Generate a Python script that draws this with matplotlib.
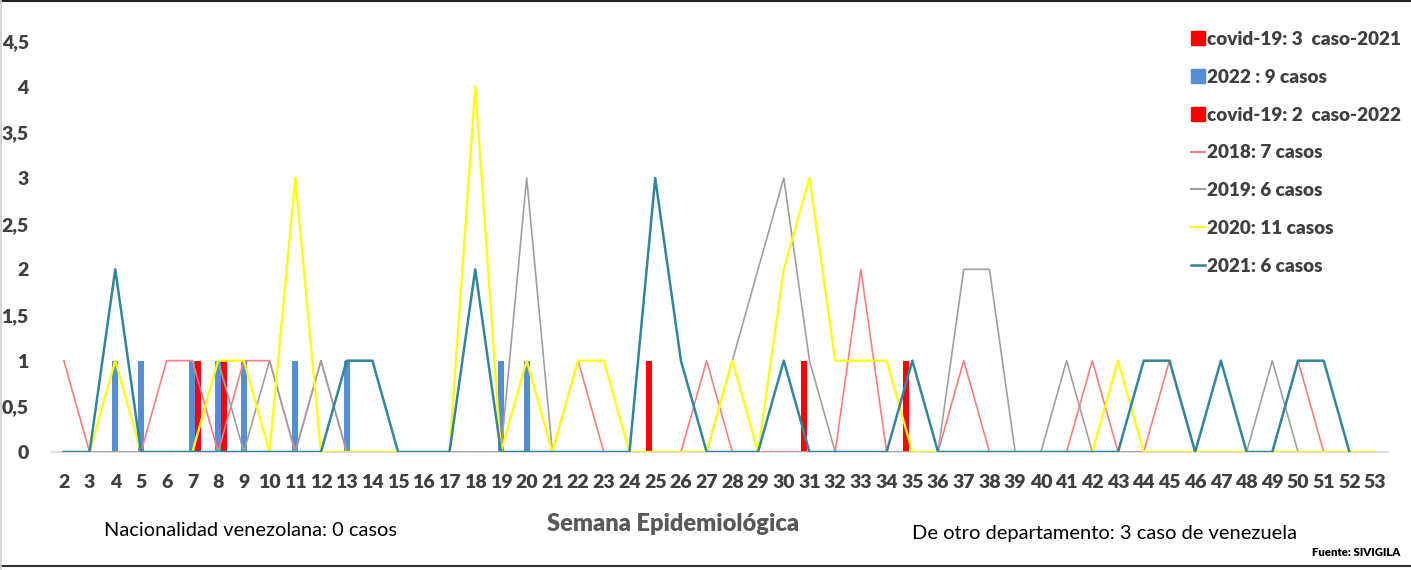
import numpy as np
import matplotlib
matplotlib.use('Agg')
import matplotlib.pyplot as plt
from matplotlib.patches import Patch
from matplotlib.lines import Line2D

plt.rcParams['font.family'] = ['Lato', 'DejaVu Sans']

# Semanas epidemiológicas
weeks = list(range(2, 54))

# Casos por semana (series de línea)
casos_2018 = [1, 0, 0, 0, 1, 1, 0, 1, 1, 0, 1, 0, 0, 0, 0, 0, 0, 0, 0, 0, 1, 0, 0, 0, 0, 1,
              0, 0, 0, 0, 0, 2, 0, 0, 0, 1, 0, 0, 0, 0, 1, 0, 0, 1, 0, 0, 0, 0, 1, 0, 0, 0]
casos_2019 = [0, 0, 0, 0, 0, 0, 1, 0, 1, 0, 1, 0, 0, 0, 0, 0, 0, 0, 3, 0, 0, 0, 0, 0, 0, 0,
              1, 2, 3, 1, 0, 0, 0, 0, 0, 2, 2, 0, 0, 1, 0, 0, 0, 0, 0, 0, 0, 1, 0, 0, 0, 0]
casos_2020 = [0, 0, 1, 0, 0, 0, 1, 1, 0, 3, 0, 0, 0, 0, 0, 0, 4, 0, 1, 0, 1, 1, 0, 0, 0, 0,
              1, 0, 2, 3, 1, 1, 1, 0, 0, 0, 0, 0, 0, 0, 0, 1, 0, 0, 0, 0, 0, 0, 0, 0, 0, 0]
casos_2021 = [0, 0, 2, 0, 0, 0, 0, 0, 0, 0, 0, 1, 1, 0, 0, 0, 2, 0, 0, 0, 0, 0, 0, 3, 1, 0,
              0, 0, 1, 0, 0, 0, 0, 1, 0, 0, 0, 0, 0, 0, 0, 0, 1, 1, 0, 1, 0, 0, 1, 1, 0, np.nan]

# Casos por semana (series de columnas)
covid_2021 = [0] * 52
for w in [25, 31, 35]:
    covid_2021[w - 2] = 1
casos_2022 = [0] * 52
for w in [4, 5, 7, 8, 9, 11, 13, 19, 20]:
    casos_2022[w - 2] = 1
covid_2022 = [0] * 52
for w in [7, 8]:
    covid_2022[w - 2] = 1

y_ticks = [0, 0.5, 1, 1.5, 2, 2.5, 3, 3.5, 4, 4.5]
y_labels = ['0', '0,5', '1', '1,5', '2', '2,5', '3', '3,5', '4', '4,5']

fig = plt.figure(figsize=(14.11, 5.70), dpi=100)
ax = fig.add_axes([51 / 1411, 1 - 452 / 570, 1337 / 1411, 411 / 570])

x = np.array(weeks)
bw = 0.23
ax.bar(x - bw, covid_2021, width=bw, color='#FF0000', zorder=2)
ax.bar(x, casos_2022, width=bw, color='#558ED5', zorder=2)
ax.bar(x + bw, covid_2022, width=bw, color='#FF0000', zorder=2)

ax.plot(x, casos_2018, color='#FF7C80', lw=1.2, zorder=3)
ax.plot(x, casos_2019, color='#A0A0A0', lw=1.2, zorder=4)
ax.plot(x, casos_2020, color='#FFFF00', lw=1.6, zorder=5)
ax.plot(x, casos_2021, color='#31859C', lw=1.8, zorder=6)

ax.set_xlim(1.5, 53.5)
ax.set_ylim(0, 4.5)
ax.set_xticks(weeks)
ax.set_xticklabels([str(w) for w in weeks])
ax.set_yticks(y_ticks)
ax.set_yticklabels(y_labels)
for s in ['top', 'right', 'left']:
    ax.spines[s].set_visible(False)
ax.spines['bottom'].set_color('#D9D9D9')
ax.spines['bottom'].set_linewidth(1.2)
ax.tick_params(length=0, labelsize=14, colors='#404040')
ax.tick_params(axis='x', pad=16)
ax.tick_params(axis='y', pad=16)
for lab in ax.get_xticklabels() + ax.get_yticklabels():
    lab.set_fontweight('heavy')

handles = [
    Patch(color='#FF0000'),
    Patch(color='#558ED5'),
    Patch(color='#FF0000'),
    Line2D([], [], color='#FF7C80', lw=1.5),
    Line2D([], [], color='#A0A0A0', lw=1.5),
    Line2D([], [], color='#FFFF00', lw=1.5),
    Line2D([], [], color='#31859C', lw=1.8),
]
labels = ['covid-19: 3  caso-2021', '2022 : 9 casos', 'covid-19: 2  caso-2022',
          '2018: 7 casos', '2019: 6 casos', '2020: 11 casos', '2021: 6 casos']
leg = fig.legend(handles, labels, loc='upper left', bbox_to_anchor=(1191 / 1411, 1 - 31 / 570),
                 frameon=False, fontsize=13.6, handlelength=0.75, handleheight=0.75,
                 handletextpad=0.1, labelspacing=1.1, borderpad=0, borderaxespad=0)
for t in leg.get_texts():
    t.set_fontweight('heavy')
    t.set_color('#404040')

fig.text(673 / 1411, 1 - 524 / 570, 'Semana Epidemiológica', ha='center', va='center',
         fontsize=17, fontweight='heavy', color='#595959')
fig.text(250 / 1411, 1 - 530 / 570, 'Nacionalidad venezolana: 0 casos', ha='center', va='center',
         fontsize=14.4, color='#000000')
fig.text(1105 / 1411, 1 - 533 / 570, 'De otro departamento: 3 caso de venezuela', ha='center',
         va='center', fontsize=14.5, color='#000000')
fig.text(1400 / 1411, 1 - 553 / 570, 'Fuente: SIVIGILA', ha='right', va='center',
         fontsize=8.2, fontweight='heavy', color='#000000')

# marco
fig.add_artist(Line2D([0, 1], [0.999, 0.999], color='#222222', lw=1.5, transform=fig.transFigure))
fig.add_artist(Line2D([0, 1], [1 - 566 / 570] * 2, color='#333333', lw=1.5, transform=fig.transFigure))
fig.add_artist(Line2D([0.0005, 0.0005], [0, 1], color='#D0D0D0', lw=1.2, transform=fig.transFigure))

fig.savefig('out.png', dpi=100)
